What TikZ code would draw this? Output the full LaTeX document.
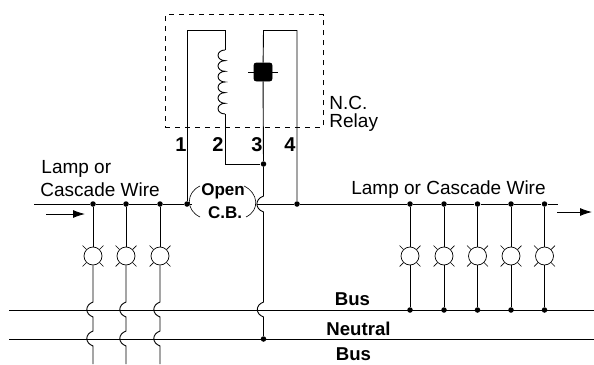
\documentclass[tikz,border=0pt]{standalone}
\usepackage{fontspec}
\setmainfont{Liberation Sans}
\usetikzlibrary{arrows.meta,calc}
\tikzset{
  wire/.style={black,line width=0.9pt},
  dotnode/.style={circle,fill=black,inner sep=0pt,minimum size=5.5pt},
  lamp/.style={circle,draw=black,line width=0.7pt,inner sep=0pt,minimum size=18pt,
    append after command={
      (\tikzlastnode.45) edge[line width=0.7pt] ++(3.8,3.8)
      (\tikzlastnode.135) edge[line width=0.7pt] ++(-3.8,3.8)
      (\tikzlastnode.225) edge[line width=0.7pt] ++(-3.8,-3.8)
      (\tikzlastnode.315) edge[line width=0.7pt] ++(3.8,-3.8)}},
  plain/.style={inner sep=0pt,font=\fontsize{19}{19}\selectfont},
  heavy/.style={inner sep=0pt,font=\fontsize{17}{17}\selectfont\bfseries},
  busname/.style={inner sep=0pt,font=\fontsize{18.6}{19}\selectfont\bfseries},
  pinname/.style={inner sep=0pt,font=\fontsize{20}{20}\selectfont\bfseries},
  flow/.style={-{Latex[length=12pt,width=8pt]}},
  hop/.style={out=200,in=160,looseness=1.5}
}
\begin{document}
\begin{tikzpicture}[x=1pt,y=1pt,wire]
\useasboundingbox (0,0) rectangle (594,-364);
% relay
\node[draw=black,dashed,dash pattern=on 5pt off 5pt,line width=0.8pt,minimum width=158pt,minimum height=112.5pt,inner sep=0pt] (relay) at (244,-70.75) {};
\node[plain,right] (nc) at (329,-102.5) {N.C.};
\node[plain,right] (relayname) at (329,-123) {Relay};
\node[pinname] (t1) at (181,-145) {1};
\node[pinname] (t2) at (218,-145) {2};
\node[pinname] (t3) at (257,-145) {3};
\node[pinname] (t4) at (290,-145) {4};
\coordinate (a1) at (187,-30);
\coordinate (a2) at (225,-30);
\coordinate (coiltop) at (225,-50);
\coordinate (coilend) at (225,-114);
\coordinate (a3) at (225,-164);
\coordinate (b1) at (263.5,-30.5);
\coordinate (b2) at (297,-30.5);
\node[draw=black,fill=black,rounded corners=2.5pt,minimum size=18pt,inner sep=0pt] (contact) at (263,-72) {};
\coordinate (cl) at (248,-72);
\coordinate (cr) at (278,-72);
\draw (cl) -- (cr);
\draw (coiltop) arc[start angle=90,end angle=270,x radius=7,y radius=5.33]
  arc[start angle=90,end angle=270,x radius=7,y radius=5.33]
  arc[start angle=90,end angle=270,x radius=7,y radius=5.33]
  arc[start angle=90,end angle=270,x radius=7,y radius=5.33]
  arc[start angle=90,end angle=270,x radius=7,y radius=5.33]
  arc[start angle=90,end angle=270,x radius=7,y radius=5.33];
\node[dotnode] (d5) at (263.5,-164) {};
\node[dotnode] (d4) at (187,-204) {};
\node[dotnode] (d6) at (297,-204) {};
\draw (d4) -- (a1) -- (a2) -- (coiltop);
\draw (coilend) -- (a3) -- (d5);
\draw (contact) -- (b1) -- (b2) -- (d6);
% main wire left
\coordinate (start) at (34,-204);
\node[dotnode] (d1) at (93,-204) {};
\node[dotnode] (d2) at (126,-204) {};
\node[dotnode] (d3) at (160,-204) {};
\coordinate (cbleft) at (192,-204);
\draw (start) -- (d1) -- (d2) -- (d3) -- (d4) -- (cbleft);
\node[plain,right] (lampa) at (41,-169) {Lamp or};
\node[plain,right] (wirea) at (40,-190) {Cascade Wire};
\coordinate (ina) at (46,-214);
\coordinate (inb) at (85,-214);
\draw[flow] (ina) -- (inb);
% breaker
\node[heavy] (open) at (223,-191) {Open};
\node[heavy] (cb) at (225,-213) {C.B.};
\coordinate (p1) at (200,-186);
\coordinate (p2) at (200,-217);
\coordinate (q1) at (244,-186);
\coordinate (q2) at (246,-217);
\draw[line width=0.6pt] (p1) to [out=205,in=155,looseness=1.3] (p2);
\draw[line width=0.6pt] (q1) to [out=-25,in=25,looseness=1.3] (q2);
% main wire right
\coordinate (hopa) at (257,-204);
\coordinate (endwire) at (558,-204);
\node[dotnode] (r1) at (410,-204) {};
\node[dotnode] (r2) at (444,-204) {};
\node[dotnode] (r3) at (477.5,-204) {};
\node[dotnode] (r4) at (511,-204) {};
\node[dotnode] (r5) at (544.5,-204) {};
\draw (hopa) -- (d6) -- (r1) -- (r2) -- (r3) -- (r4) -- (r5) -- (endwire);
\node[plain] (lampb) at (448.5,-190) {Lamp or Cascade Wire};
\coordinate (outa) at (557,-212);
\coordinate (outb) at (592,-212);
\draw[flow] (outa) -- (outb);
% bus lines
\coordinate (busa) at (9,-310);
\coordinate (busb) at (594,-310);
\coordinate (neua) at (9,-339);
\coordinate (neub) at (594,-339);
\draw (busa) -- (busb);
\draw (neua) -- (neub);
\node[busname] (bus1) at (352.5,-299.5) {Bus};
\node[busname] (neutral) at (358.5,-328.5) {Neutral};
\node[busname] (bus2) at (353.5,-354.5) {Bus};
% center wire
\node[dotnode] (d7) at (263.5,-339) {};
\coordinate (h1) at (263.5,-196);
\coordinate (h2) at (263.5,-212);
\coordinate (h3) at (263.5,-302);
\coordinate (h4) at (263.5,-317);
\draw (d5) -- (contact);
\draw (d5) -- (h1) to [hop] (h2) -- (h3) to [hop] (h4) -- (d7);
% lamps left
\node[lamp] (l1) at (93,-256) {};
\node[lamp] (l2) at (126,-256) {};
\node[lamp] (l3) at (160,-256) {};
\draw (d1) -- (l1);
\draw (d2) -- (l2);
\draw (d3) -- (l3);
\coordinate (e1) at (93,-302);
\coordinate (f1) at (93,-317);
\coordinate (g1) at (93,-331);
\coordinate (k1) at (93,-346);
\coordinate (m1) at (93,-364);
\coordinate (e2) at (126,-302);
\coordinate (f2) at (126,-317);
\coordinate (g2) at (126,-331);
\coordinate (k2) at (126,-346);
\coordinate (m2) at (126,-364);
\coordinate (e3) at (160,-302);
\coordinate (f3) at (160,-317);
\coordinate (g3) at (160,-331);
\coordinate (k3) at (160,-346);
\coordinate (m3) at (160,-364);
\draw (l1) -- (e1) to [hop] (f1) -- (g1) to [hop] (k1) -- (m1);
\draw (l2) -- (e2) to [hop] (f2) -- (g2) to [hop] (k2) -- (m2);
\draw (l3) -- (e3) to [hop] (f3) -- (g3) to [hop] (k3) -- (m3);
% lamps right
\node[lamp] (l4) at (410,-256) {};
\node[lamp] (l5) at (444,-256) {};
\node[lamp] (l6) at (477.5,-256) {};
\node[lamp] (l7) at (511,-256) {};
\node[lamp] (l8) at (544.5,-256) {};
\node[dotnode] (s1) at (410,-310) {};
\node[dotnode] (s2) at (444,-310) {};
\node[dotnode] (s3) at (477.5,-310) {};
\node[dotnode] (s4) at (511,-310) {};
\node[dotnode] (s5) at (544.5,-310) {};
\draw (r1) -- (l4) -- (s1);
\draw (r2) -- (l5) -- (s2);
\draw (r3) -- (l6) -- (s3);
\draw (r4) -- (l7) -- (s4);
\draw (r5) -- (l8) -- (s5);
\end{tikzpicture}
\end{document}
